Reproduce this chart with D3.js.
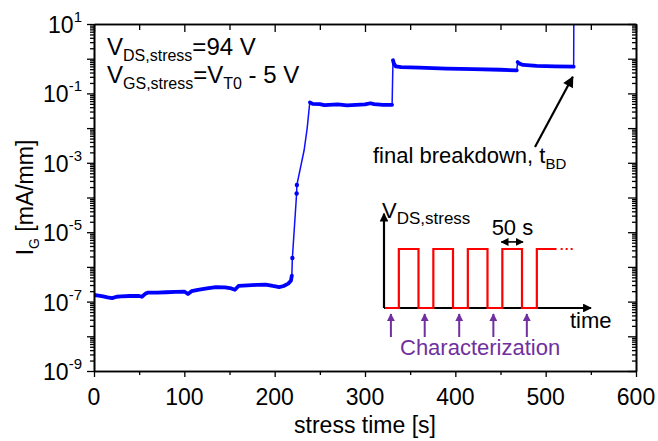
<!DOCTYPE html>
<html>
<head>
<meta charset="utf-8">
<script src="https://cdn.jsdelivr.net/npm/d3@7.9.0/dist/d3.min.js"></script>
<style>
  body { margin: 0; background: #fff; }
  svg text { font-family: "Liberation Sans", Arial, sans-serif; fill: #000; }
</style>
</head>
<body>
<svg id="chart" width="658" height="441"></svg>
<script>
// stress time [s] and gate current I_G [mA/mm]
const phase1T = [0, 5, 10, 15, 20, 25, 30, 40, 50, 53, 57, 60, 70, 80, 90, 100, 104, 108, 115, 125, 135, 145, 152, 156, 160, 170, 180, 190, 198, 205, 210, 215, 218, 219];
const phase1I = [1.55e-7, 1.48e-7, 1.41e-7, 1.32e-7, 1.26e-7, 1.38e-7, 1.41e-7, 1.45e-7, 1.45e-7, 1.38e-7, 1.7e-7, 1.82e-7, 1.82e-7, 1.86e-7, 1.91e-7, 1.95e-7, 1.66e-7, 2.0e-7, 2.19e-7, 2.4e-7, 2.63e-7, 2.57e-7, 2.4e-7, 2.19e-7, 2.82e-7, 2.95e-7, 3.02e-7, 3.09e-7, 2.82e-7, 2.63e-7, 2.82e-7, 3.3e-7, 4.0e-7, 5.6e-7];
const riseT = [219.6, 224.3, 224.6, 232.6, 236, 238.8];
const riseI = [1.8e-6, 1.3e-4, 2.3e-4, 2.3e-3, 1.0e-2, 5.3e-2];
const phase2T = [239, 242, 250, 255, 260, 270, 280, 290, 300, 306, 310, 320, 330];
const phase2I = [0.055, 0.050, 0.049, 0.046, 0.047, 0.048, 0.045, 0.047, 0.048, 0.052, 0.049, 0.047, 0.047];
const phase3T = [331, 332, 334, 340, 360, 390, 420, 450, 468];
const phase3I = [0.9, 0.72, 0.6, 0.57, 0.55, 0.52, 0.50, 0.48, 0.46];
const phase4T = [469, 471, 475, 490, 510, 531];
const phase4I = [0.80, 0.72, 0.66, 0.62, 0.60, 0.59];
const breakdownT = [531, 531.2];
const breakdownI = [0.59, 30];

const xTicks = [0, 100, 200, 300, 400, 500, 600];
const xMinor = [50, 150, 250, 350, 450, 550];
const yLabelExp = [1, -1, -3, -5, -7, -9];

// inset schematic (arbitrary units)
const stressOn = [0.43, 1.43, 2.43, 3.43, 4.43];
const stressOff = [1, 2, 3, 4, 5];
const charTimes = [0.2, 1.18, 2.18, 3.17, 4.14];

const zip = (ts, is) => ts.map((t, i) => ({ t, i: is[i] }));

const svg = d3.select("#chart");
const margin = { top: 24, right: 22, bottom: 70, left: 94 };
const width = 658 - margin.left - margin.right;
const height = 441 - margin.top - margin.bottom;

const x = d3.scaleLinear().domain([0, 600]).range([margin.left, margin.left + width]);
const y = d3.scaleLog().domain([1e-9, 10]).range([margin.top + height, margin.top]);

const majors = d3.range(-9, 2).map(e => Math.pow(10, e));
const minors = [];
d3.range(-9, 1).forEach(e => { for (let k = 2; k <= 9; k++) minors.push(k * Math.pow(10, e)); });

svg.append("clipPath").attr("id", "plot-clip")
  .append("rect")
  .attr("x", margin.left).attr("y", margin.top)
  .attr("width", width).attr("height", height);

// data
const line = d3.line().x(d => x(d.t)).y(d => y(d.i));
const all = [].concat(zip(phase1T, phase1I), zip(riseT, riseI), zip(phase2T, phase2I),
  zip(phase3T, phase3I), zip(phase4T, phase4I), zip(breakdownT, breakdownI));

const gData = svg.append("g").attr("clip-path", "url(#plot-clip)");
gData.append("path").datum(all)
  .attr("fill", "none").attr("stroke", "#1010ff").attr("stroke-width", 1.5)
  .attr("d", line);

[[phase1T, phase1I], [phase2T, phase2I], [phase3T, phase3I], [phase4T, phase4I]].forEach(([ts, is]) => {
  gData.append("path").datum(zip(ts, is))
    .attr("fill", "none").attr("stroke", "#0000ff").attr("stroke-width", 3.8)
    .attr("stroke-linejoin", "round").attr("stroke-linecap", "round")
    .attr("d", line);
});

gData.selectAll("circle.rise").data(zip(riseT, riseI).slice(0, 3))
  .enter().append("circle")
  .attr("cx", d => x(d.t)).attr("cy", d => y(d.i)).attr("r", 2.2)
  .attr("fill", "#0000ff");

// axes
function styleAxis(g) {
  g.select(".domain").attr("stroke", "#000").attr("stroke-width", 1.6);
  g.selectAll(".tick line").attr("stroke", "#000").attr("stroke-width", 1.3);
  g.selectAll(".tick text").remove();
}

svg.append("g").attr("transform", `translate(0,${margin.top + height})`)
  .call(d3.axisBottom(x).tickValues(xTicks).tickSize(6).tickSizeOuter(0)).call(styleAxis);
svg.append("g").attr("transform", `translate(0,${margin.top + height})`)
  .call(d3.axisBottom(x).tickValues(xMinor).tickSize(4).tickSizeOuter(0)).call(styleAxis);
svg.append("g").attr("transform", `translate(0,${margin.top})`)
  .call(d3.axisBottom(x).tickValues(xTicks).tickSize(8).tickSizeOuter(0)).call(styleAxis);
svg.append("g").attr("transform", `translate(0,${margin.top})`)
  .call(d3.axisBottom(x).tickValues(xMinor).tickSize(6).tickSizeOuter(0)).call(styleAxis);

svg.append("g").attr("transform", `translate(${margin.left},0)`)
  .call(d3.axisLeft(y).tickValues(majors).tickSize(7).tickSizeOuter(0)).call(styleAxis);
svg.append("g").attr("transform", `translate(${margin.left},0)`)
  .call(d3.axisLeft(y).tickValues(minors).tickSize(4).tickSizeOuter(0)).call(styleAxis);
svg.append("g").attr("transform", `translate(${margin.left + width},0)`)
  .call(d3.axisLeft(y).tickValues(majors).tickSize(8).tickSizeOuter(0)).call(styleAxis);
svg.append("g").attr("transform", `translate(${margin.left + width},0)`)
  .call(d3.axisLeft(y).tickValues(minors).tickSize(4).tickSizeOuter(0)).call(styleAxis);

// tick labels
svg.selectAll("text.xlab").data(xTicks).enter().append("text")
  .attr("x", d => x(d)).attr("y", margin.top + height + 34)
  .attr("text-anchor", "middle").attr("font-size", 23)
  .text(d => d);

yLabelExp.forEach(e => {
  const t = svg.append("text")
    .attr("x", margin.left - 12).attr("y", y(Math.pow(10, e)) + 9)
    .attr("text-anchor", "end").attr("font-size", 23);
  t.append("tspan").text("10");
  t.append("tspan").attr("dy", -11).attr("font-size", 15).text(e);
});

// axis titles
svg.append("text")
  .attr("x", x(300)).attr("y", 433)
  .attr("text-anchor", "middle").attr("font-size", 23)
  .text("stress time [s]");

const yt = svg.append("text")
  .attr("transform", `translate(33,${y(1e-4)}) rotate(-90)`)
  .attr("text-anchor", "middle").attr("font-size", 23);
yt.append("tspan").text("I");
yt.append("tspan").attr("dy", 6).attr("font-size", 14).text("G");
yt.append("tspan").attr("dy", -6).text(" [mA/mm]");

// stress conditions
const c1 = svg.append("text").attr("x", 107).attr("y", 55).attr("font-size", 24);
c1.append("tspan").text("V");
c1.append("tspan").attr("dy", 6).attr("font-size", 16).text("DS,stress");
c1.append("tspan").attr("dy", -6).text("=94 V");
const c2 = svg.append("text").attr("x", 107).attr("y", 83).attr("font-size", 24);
c2.append("tspan").text("V");
c2.append("tspan").attr("dy", 6).attr("font-size", 16).text("GS,stress");
c2.append("tspan").attr("dy", -6).text("=V");
c2.append("tspan").attr("dy", 6).attr("font-size", 16).text("T0");
c2.append("tspan").attr("dy", -6).text(" - 5 V");

// arrow heads
svg.append("defs").html(`
  <marker id="ah" viewBox="0 0 10 10" refX="9" refY="5" markerWidth="5.5" markerHeight="5" orient="auto">
    <path d="M0,0 L10,5 L0,10 z" fill="#000"/>
  </marker>
  <marker id="ahi" viewBox="0 0 10 10" refX="9" refY="5" markerWidth="4" markerHeight="4" orient="auto">
    <path d="M0,0 L10,5 L0,10 z" fill="#000"/>
  </marker>
  <marker id="ahs" viewBox="0 0 10 10" refX="9" refY="5" markerWidth="5" markerHeight="5" orient="auto-start-reverse">
    <path d="M0,0 L10,5 L0,10 z" fill="#000"/>
  </marker>
  <marker id="ahp" viewBox="0 0 10 10" refX="9" refY="5" markerWidth="4" markerHeight="4" orient="auto">
    <path d="M0,0 L10,5 L0,10 z" fill="#7030a0"/>
  </marker>`);

// breakdown annotation
svg.append("line")
  .attr("x1", 535).attr("y1", 147).attr("x2", x(530)).attr("y2", y(0.3))
  .attr("stroke", "#000").attr("stroke-width", 2.2).attr("marker-end", "url(#ah)");

const bd = svg.append("text").attr("x", 373).attr("y", 163).attr("font-size", 22);
bd.append("tspan").text("final breakdown, t");
bd.append("tspan").attr("dy", 6).attr("font-size", 15).text("BD");

// inset: stress pulse scheme
const ix = d3.scaleLinear().domain([0, 6]).range([384, 591]);
const iy = d3.scaleLinear().domain([0, 1]).range([308, 249]);
const inset = svg.append("g");

inset.append("line")
  .attr("x1", ix(0)).attr("y1", iy(0)).attr("x2", ix(0)).attr("y2", iy(1.6))
  .attr("stroke", "#000").attr("stroke-width", 2.2).attr("marker-end", "url(#ahi)");
inset.append("line")
  .attr("x1", ix(0)).attr("y1", iy(0)).attr("x2", ix(6)).attr("y2", iy(0))
  .attr("stroke", "#000").attr("stroke-width", 2.2).attr("marker-end", "url(#ahi)");

const pulse = [{ t: 0.03, v: 0 }];
stressOn.forEach((on, k) => {
  pulse.push({ t: on, v: 0 }, { t: on, v: 1 });
  if (k < stressOn.length - 1) pulse.push({ t: stressOff[k], v: 1 }, { t: stressOff[k], v: 0 });
  else pulse.push({ t: stressOff[k], v: 1 });
});
inset.append("path").datum(pulse)
  .attr("fill", "none").attr("stroke", "#ff0000").attr("stroke-width", 2.2)
  .attr("d", d3.line().x(d => ix(d.t)).y(d => iy(d.v)));
inset.append("line")
  .attr("x1", ix(5.12)).attr("y1", iy(1)).attr("x2", ix(5.5)).attr("y2", iy(1))
  .attr("stroke", "#ff0000").attr("stroke-width", 2.2).attr("stroke-dasharray", "2,3");

inset.append("line")
  .attr("x1", ix(3.4)).attr("y1", iy(1.12)).attr("x2", ix(4.03)).attr("y2", iy(1.12))
  .attr("stroke", "#000").attr("stroke-width", 1.6)
  .attr("marker-start", "url(#ahs)").attr("marker-end", "url(#ahs)");
inset.append("text").attr("x", ix(3.12)).attr("y", 235).attr("font-size", 22).text("50 s");

charTimes.forEach(t => {
  inset.append("line")
    .attr("x1", ix(t)).attr("y1", 337).attr("x2", ix(t)).attr("y2", 314)
    .attr("stroke", "#7030a0").attr("stroke-width", 2).attr("marker-end", "url(#ahp)");
});
inset.append("text").attr("x", 400).attr("y", 355).attr("font-size", 22)
  .style("fill", "#7030a0").text("Characterization");
inset.append("text").attr("x", 570).attr("y", 328).attr("font-size", 22).text("time");

const vl = inset.append("text").attr("x", 382).attr("y", 218).attr("font-size", 22);
vl.append("tspan").text("V");
vl.append("tspan").attr("dy", 6).attr("font-size", 17).text("DS,stress");
</script>
</body>
</html>
